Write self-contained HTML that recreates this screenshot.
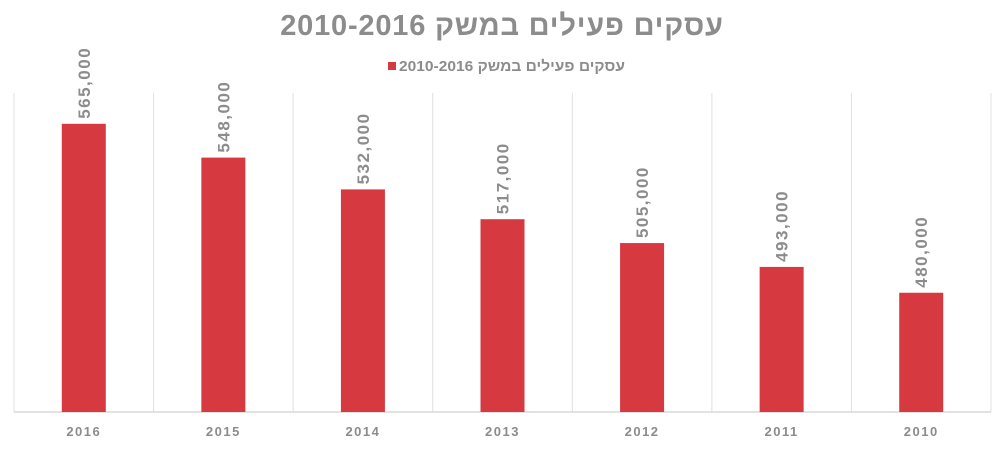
<!DOCTYPE html>
<html><head><meta charset="utf-8"><style>
body{margin:0;background:#fff;}
svg text{font-family:"Liberation Sans","DejaVu Sans",sans-serif;font-weight:bold;fill:#8c8c8c;}
</style></head><body>
<svg id="chart" width="1005" height="447">
<text x="502" y="35" text-anchor="middle" font-size="29" letter-spacing="0.8">עסקים פעילים במשק 2010-2016</text>
<g>
<rect x="388" y="62" width="8" height="8" fill="#d63a40"/>
<text x="399" y="71" font-size="15" textLength="226" lengthAdjust="spacingAndGlyphs">עסקים פעילים במשק 2010-2016</text>
</g>
<g id="plot"></g>
</svg>
<script>
const categories=["2016","2015","2014","2013","2012","2011","2010"];
const values=[565000,548000,532000,517000,505000,493000,480000];
const labels=["565,000","548,000","532,000","517,000","505,000","493,000","480,000"];
const NS="http://www.w3.org/2000/svg";
const plot=document.getElementById('plot');
const x0=14,x1=991,yTop=93,yBase=412,vMin=420000,vMax=580500;
const band=(x1-x0)/categories.length;
function xs(i){return x0+band*i;}
function ys(v){return yBase-(v-vMin)/(vMax-vMin)*(yBase-yTop);}
function mk(t,a){const e=document.createElementNS(NS,t);for(const k in a)e.setAttribute(k,a[k]);plot.appendChild(e);return e;}
for(let i=0;i<=categories.length;i++){
 const l=mk('line',{x1:xs(i),x2:xs(i),y1:yTop,y2:yBase,stroke:'#e0e0e0','stroke-width':1});
 
 
}
const ax=mk('line',{x1:x0,x2:x1,y1:yBase,y2:yBase,stroke:'#d9d9d9','stroke-width':1.5});


categories.forEach((c,i)=>{
 const cx=xs(i)+band/2,bw=44,top=ys(values[i]);
 const r=mk('rect',{x:cx-bw/2,y:top,width:bw,height:yBase-top,fill:'#d63a40'});
 
 
 const t=mk('text',{x:0,y:0,'font-size':17,'letter-spacing':'1.5',transform:`translate(${cx+6},${top-5}) rotate(-90)`});
 t.textContent=labels[i];
 
 
 const k=mk('text',{x:cx,y:436,'text-anchor':'middle','font-size':13,'letter-spacing':'1.5'});
 k.textContent=c;
 
 
});
</script>
</body></html>
